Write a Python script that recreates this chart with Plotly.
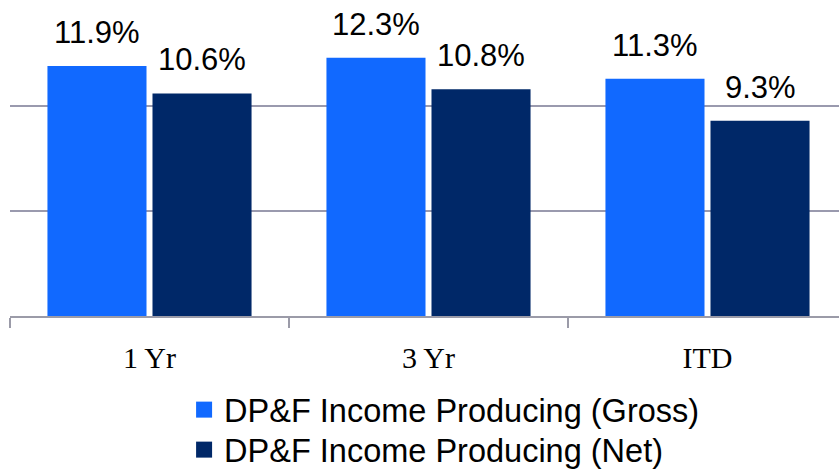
import plotly.graph_objects as go

categories = ["1 Yr", "3 Yr", "ITD"]
gross = [11.9, 12.3, 11.3]
net = [10.6, 10.8, 9.3]
series_names = ["DP&F Income Producing (Gross)", "DP&F Income Producing (Net)"]
colors = ["#1169FF", "#002868"]

W, H = 839, 472
ml, mr, mt, mb = 10, 0, 1, 156
cat_px = 279.0
plot_w = W - ml - mr
x_max = -0.5 + plot_w / cat_px

fig = go.Figure()
legend_ids = ["legend", "legend2"]
for name, vals, col, lg in zip(series_names, [gross, net], colors, legend_ids):
    fig.add_trace(go.Bar(x=categories, y=vals, name=name, marker_color=col,
                         marker_line_width=0, showlegend=False))
    fig.add_trace(go.Scatter(x=[None], y=[None], mode="markers", name=name, legend=lg,
                             marker=dict(symbol="square", size=21, color=col)))

slot = 105.0
annots = []
for i, vals in enumerate([gross, net]):
    shift = (-0.5 + i) * slot
    for c, v in zip(categories, vals):
        annots.append(dict(x=c, y=v, text=f"{v:.1f}%", showarrow=False,
                           xshift=shift, yshift=14, yanchor="bottom",
                           font=dict(family="Liberation Sans", size=31, color="#000")))

legend_style = dict(x=0.21, xanchor="left", yanchor="top", yref="container",
                    orientation="v", itemsizing="trace",
                    font=dict(family="Liberation Sans", size=32.5, color="#000"),
                    bgcolor="rgba(0,0,0,0)")

fig.update_layout(
    width=W, height=H,
    margin=dict(l=ml, r=mr, t=mt, b=mb, autoexpand=False),
    paper_bgcolor="white", plot_bgcolor="white",
    barmode="group", bargap=0.247, bargroupgap=0.057,
    annotations=annots,
    showlegend=True,
    legend=dict(y=(H - 382) / H, **legend_style),
    legend2=dict(y=(H - 422) / H, **legend_style),
    xaxis=dict(range=[-0.5, x_max], showline=True, linecolor="#9B9BA8", linewidth=1.5,
               ticks="outside", tickson="boundaries", ticklen=10, tickcolor="#9B9BA8",
               tickwidth=1.5, showgrid=False, ticklabelstandoff=14,
               tickfont=dict(family="Liberation Serif", size=30, color="#000")),
    yaxis=dict(range=[0, 15], dtick=5, showticklabels=False, showgrid=True,
               gridcolor="#9A9AAE", gridwidth=1.5, zeroline=False, ticks=""),
)
fig.write_html("out.html")
